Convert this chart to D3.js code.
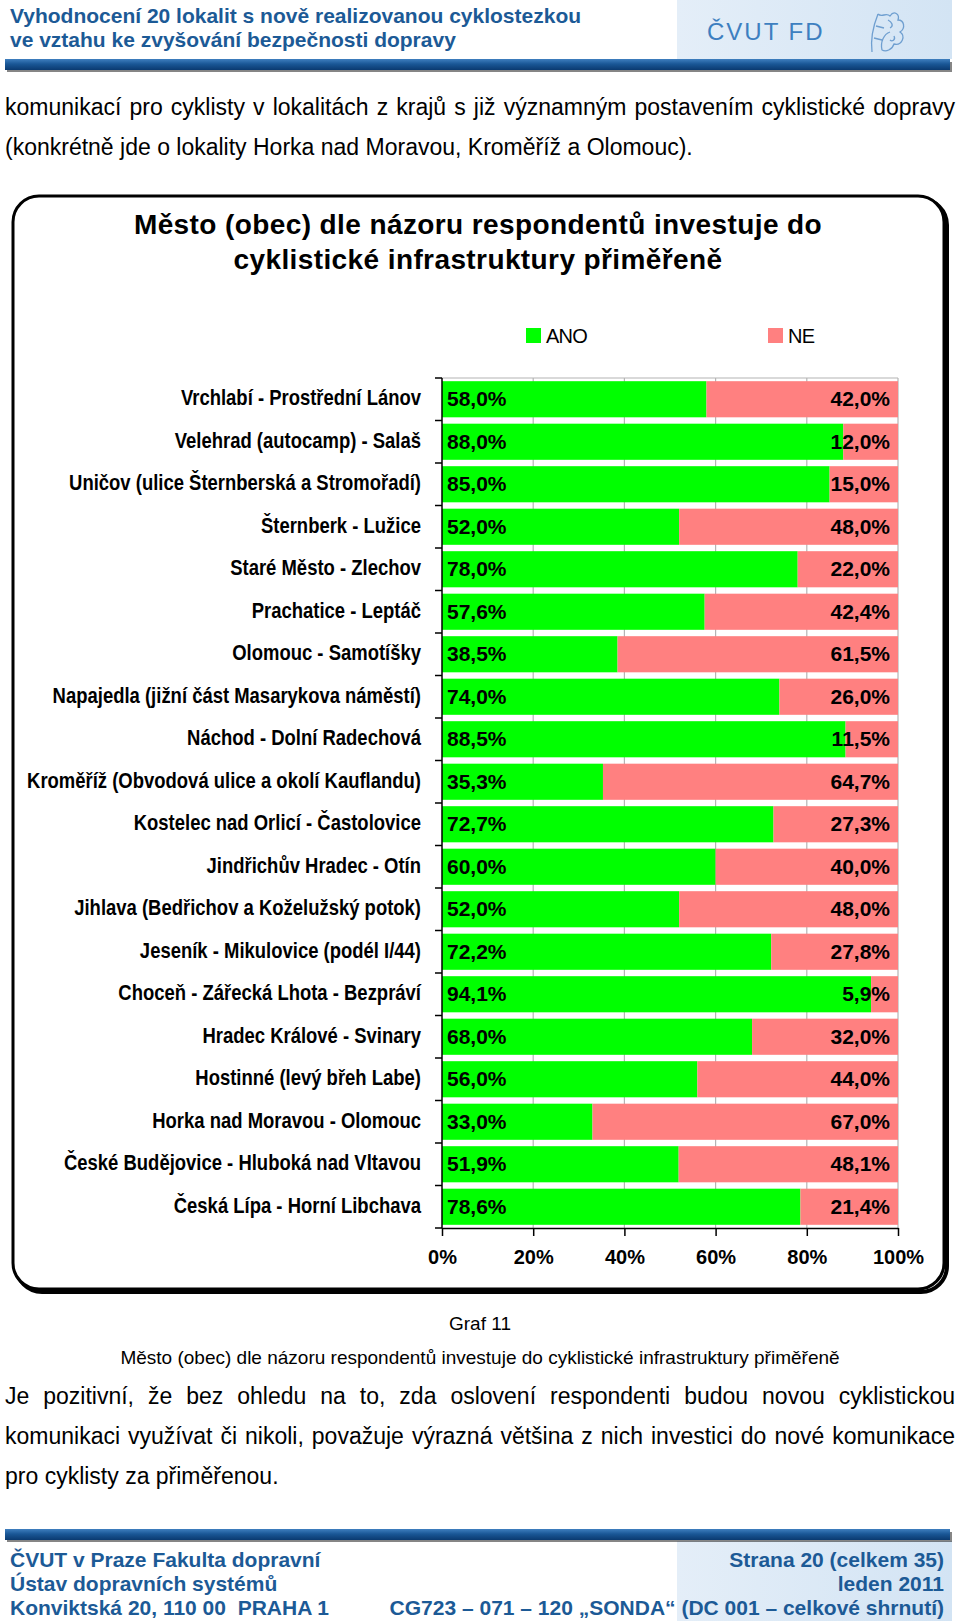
<!DOCTYPE html>
<html>
<head>
<meta charset="utf-8">
<script src="https://cdn.jsdelivr.net/npm/d3@7/dist/d3.min.js"></script>
<style>
  body { margin: 0; background: #fff; }
  #page { position: relative; width: 960px; height: 1621px; overflow: hidden; }
  #page svg { position: absolute; left: 0; top: 0; }
  .txt { position: absolute; font-family: "Liberation Sans", Arial, sans-serif; color: #000; white-space: nowrap; }
  .just { text-align: justify; text-align-last: justify; }
</style>
</head>
<body>
<div id="page"></div>
<script>
var w = 960;
var h = 1621;
var plotLeft = 442;
var plotRight = 898;
var plotTop = 378;
var plotBottom = 1228;
var squeeze = 0.84;   // Arial Narrow is not installed, so Arial is squeezed for the category labels
var arial = '"Liberation Sans", Arial, sans-serif';

// locality names, top to bottom as in the chart
var categories = [
  "Vrchlabí - Prostřední Lánov",
  "Velehrad (autocamp) - Salaš",
  "Uničov (ulice Šternberská a Stromořadí)",
  "Šternberk - Lužice",
  "Staré Město - Zlechov",
  "Prachatice - Leptáč",
  "Olomouc - Samotíšky",
  "Napajedla (jižní část Masarykova náměstí)",
  "Náchod - Dolní Radechová",
  "Kroměříž (Obvodová ulice a okolí Kauflandu)",
  "Kostelec nad Orlicí - Častolovice",
  "Jindřichův Hradec - Otín",
  "Jihlava (Bedřichov a Koželužský potok)",
  "Jeseník - Mikulovice (podél I/44)",
  "Choceň - Zářecká Lhota - Bezpráví",
  "Hradec Králové - Svinary",
  "Hostinné (levý břeh Labe)",
  "Horka nad Moravou - Olomouc",
  "České Budějovice - Hluboká nad Vltavou",
  "Česká Lípa - Horní Libchava"
];
var ano = [58.0, 88.0, 85.0, 52.0, 78.0, 57.6, 38.5, 74.0, 88.5, 35.3, 72.7, 60.0, 52.0, 72.2, 94.1, 68.0, 56.0, 33.0, 51.9, 78.6];
var ne  = [42.0, 12.0, 15.0, 48.0, 22.0, 42.4, 61.5, 26.0, 11.5, 64.7, 27.3, 40.0, 48.0, 27.8, 5.9, 32.0, 44.0, 67.0, 48.1, 21.4];
var seriesNames = ["ANO", "NE"];
var seriesColors = ["#00ff00", "#ff8080"];
var xTicks = [0, 20, 40, 60, 80, 100];

var chartTitle = ["Město (obec) dle názoru respondentů investuje do", "cyklistické infrastruktury přiměřeně"];
var headerLines = ["Vyhodnocení 20 lokalit s nově realizovanou cyklostezkou", "ve vztahu ke zvyšování bezpečnosti dopravy"];
var footerLeft = ["ČVUT v Praze Fakulta dopravní", "Ústav dopravních systémů", "Konviktská 20, 110 00  PRAHA 1"];
var footerRight = ["Strana 20 (celkem 35)", "leden 2011", "CG723 – 071 – 120 „SONDA“ (DC 001 – celkové shrnutí)"];
var introLines = ["komunikací pro cyklisty v lokalitách z krajů s již významným postavením cyklistické dopravy",
                  "(konkrétně jde o lokality Horka nad Moravou, Kroměříž a Olomouc)."];
var outroLines = ["Je pozitivní, že bez ohledu na to, zda oslovení respondenti budou novou cyklistickou",
                  "komunikaci využívat či nikoli, považuje výrazná většina z nich investici do nové komunikace",
                  "pro cyklisty za přiměřenou."];

function fmt(v) { return v.toFixed(1).replace(".", ",") + "%"; }

function boldText(sel, x, y, anchor, size, color) {
  return sel.append("text")
    .attr("x", x).attr("y", y)
    .attr("text-anchor", anchor)
    .style("white-space", "pre")
    .attr("font-family", arial).attr("font-weight", "bold").attr("font-size", size)
    .attr("fill", color);
}

function
drawPage()
{
  var page = d3.select("#page");
  var svg = page.append("svg").attr("width", w).attr("height", h);
  var defs = svg.append("defs");

  var gBar = defs.append("linearGradient").attr("id", "barGrad").attr("x1", 0).attr("y1", 0).attr("x2", 0).attr("y2", 1);
  gBar.append("stop").attr("offset", "0%").attr("stop-color", "#3f7fbf");
  gBar.append("stop").attr("offset", "45%").attr("stop-color", "#1a5796");
  gBar.append("stop").attr("offset", "100%").attr("stop-color", "#0b3a70");

  var gBox = defs.append("linearGradient").attr("id", "boxGrad").attr("x1", 0).attr("y1", 0).attr("x2", 1).attr("y2", 0);
  gBox.append("stop").attr("offset", "0%").attr("stop-color", "#e4eef8");
  gBox.append("stop").attr("offset", "100%").attr("stop-color", "#d3e4f4");

  // ---- header ----
  svg.append("rect").attr("x", 677).attr("y", 0).attr("width", 275).attr("height", 59).attr("fill", "url(#boxGrad)");
  svg.append("text").attr("x", 707).attr("y", 40).attr("font-family", arial).attr("font-size", 24)
    .attr("letter-spacing", 2).attr("fill", "#3d7fc0").text("ČVUT FD");
  // rough lion emblem outline
  var lion = svg.append("g").attr("transform", "translate(868,6)").attr("fill", "none")
    .attr("stroke", "#6f9fd0").attr("stroke-width", 1.3);
  lion.append("path").attr("d", "M4 46 C2 30 6 18 10 8 M10 8 C14 12 18 6 22 10 C26 4 32 8 30 14 C36 14 38 22 32 26 C38 30 34 40 26 38 C24 44 18 46 14 44 M14 44 C12 36 16 28 22 26 M8 20 L16 22 M6 32 L14 34");
  lion.append("path").attr("d", "M20 14 C24 16 26 20 22 22 M26 30 C28 34 24 36 22 34");

  headerLines.forEach(function(t, i) {
    boldText(svg, 10, 23 + i * 24, "start", 21, "#1c5a96").text(t);
  });

  svg.append("rect").attr("x", 7).attr("y", 62).attr("width", 945).attr("height", 10).attr("fill", "#222").attr("opacity", 0.55);
  svg.append("rect").attr("x", 5).attr("y", 59).attr("width", 945).attr("height", 11).attr("fill", "url(#barGrad)");

  // ---- footer ----
  svg.append("rect").attr("x", 677).attr("y", 1541).attr("width", 275).attr("height", 80).attr("fill", "url(#boxGrad)");
  svg.append("rect").attr("x", 7).attr("y", 1532).attr("width", 945).attr("height", 10).attr("fill", "#222").attr("opacity", 0.55);
  svg.append("rect").attr("x", 5).attr("y", 1529).attr("width", 945).attr("height", 11).attr("fill", "url(#barGrad)");

  footerLeft.forEach(function(t, i) {
    boldText(svg, 10, 1567 + i * 24, "start", 21, "#1c5a96").text(t);
  });
  footerRight.forEach(function(t, i) {
    boldText(svg, 944, 1567 + i * 24, "end", 21, "#1c5a96").text(t);
  });

  // ---- chart frame ----
  svg.append("rect").attr("x", 16).attr("y", 199).attr("width", 931).attr("height", 1093).attr("rx", 26)
    .attr("fill", "none").attr("stroke", "#000").attr("stroke-width", 4);
  svg.append("rect").attr("x", 13).attr("y", 196).attr("width", 931).attr("height", 1093).attr("rx", 26)
    .attr("fill", "#fff").attr("stroke", "#000").attr("stroke-width", 3);

  svg.selectAll("text.title").data(chartTitle).enter().append("text")
    .attr("class", "title")
    .attr("x", 478).attr("y", function(d, i) { return 234 + i * 35; })
    .attr("text-anchor", "middle")
    .attr("font-family", arial).attr("font-weight", "bold").attr("font-size", 28).attr("letter-spacing", 0.4)
    .text(function(d) { return d; });

  // legend
  var legX = [526, 768];
  var legend = svg.selectAll("g.leg").data(seriesNames).enter().append("g")
    .attr("class", "leg")
    .attr("transform", function(d, i) { return "translate(" + legX[i] + ",328)"; });
  legend.append("rect").attr("width", 15).attr("height", 15)
    .attr("fill", function(d, i) { return seriesColors[i]; });
  legend.append("text").attr("x", 20).attr("y", 15)
    .attr("font-family", arial).attr("font-size", 20).attr("letter-spacing", -0.8)
    .text(function(d) { return d; });

  // scales
  var x = d3.scaleLinear().domain([0, 100]).range([plotLeft, plotRight]);
  var y = d3.scaleBand().domain(categories).range([plotTop, plotBottom]).paddingInner(0.15).paddingOuter(0.075);

  // gridlines and plot border
  svg.append("g").selectAll("line").data(xTicks.slice(1)).enter().append("line")
    .attr("x1", function(d) { return x(d); }).attr("x2", function(d) { return x(d); })
    .attr("y1", plotTop).attr("y2", plotBottom)
    .attr("stroke", "#b4b4b4").attr("stroke-width", 1.2);
  svg.append("line").attr("x1", plotLeft).attr("x2", plotRight).attr("y1", plotTop).attr("y2", plotTop)
    .attr("stroke", "#b4b4b4").attr("stroke-width", 1.2);

  // bars
  var rows = categories.map(function(c, i) { return {name: c, ano: ano[i], ne: ne[i]}; });
  var row = svg.append("g").selectAll("g").data(rows).enter().append("g")
    .attr("transform", function(d) { return "translate(0," + y(d.name) + ")"; });
  row.append("rect")
    .attr("x", x(0)).attr("width", function(d) { return x(d.ano) - x(0); })
    .attr("height", y.bandwidth()).attr("fill", seriesColors[0]);
  row.append("rect")
    .attr("x", function(d) { return x(d.ano); })
    .attr("width", function(d) { return x(d.ano + d.ne) - x(d.ano); })
    .attr("height", y.bandwidth()).attr("fill", seriesColors[1]);
  row.append("text")
    .attr("x", x(0) + 5).attr("y", y.bandwidth() / 2 + 7)
    .attr("font-family", arial).attr("font-weight", "bold").attr("font-size", 21)
    .text(function(d) { return fmt(d.ano); });
  row.append("text")
    .attr("x", x(100) - 8).attr("y", y.bandwidth() / 2 + 7)
    .attr("text-anchor", "end")
    .attr("font-family", arial).attr("font-weight", "bold").attr("font-size", 21)
    .text(function(d) { return fmt(d.ne); });

  // category axis
  var yAxis = svg.append("g").attr("transform", "translate(" + plotLeft + ",0)")
    .call(d3.axisLeft(y).tickSize(0).tickPadding(0));
  yAxis.select(".domain").remove();
  yAxis.selectAll("text")
    .attr("x", null).attr("dy", null)
    .attr("transform", "translate(-21,6) scale(" + squeeze + ",1)")
    .attr("font-family", arial).attr("font-weight", "bold").attr("font-size", 22).attr("fill", "#000");
  var bounds = categories.map(function(c) { return y(c) - y.step() * y.paddingInner() / 2; });
  bounds.push(plotBottom);
  svg.append("g").selectAll("line").data(bounds).enter().append("line")
    .attr("x1", plotLeft - 7).attr("x2", plotLeft)
    .attr("y1", function(d) { return d; }).attr("y2", function(d) { return d; })
    .attr("stroke", "#000").attr("stroke-width", 1.5);
  svg.append("line").attr("x1", plotLeft).attr("x2", plotLeft).attr("y1", plotTop).attr("y2", plotBottom)
    .attr("stroke", "#000").attr("stroke-width", 1.5);

  // value axis
  var xAxis = svg.append("g").attr("transform", "translate(0," + plotBottom + ")")
    .call(d3.axisBottom(x).tickValues(xTicks).tickSize(8).tickSizeOuter(0).tickPadding(14)
      .tickFormat(function(d) { return d + "%"; }));
  xAxis.select(".domain").attr("stroke-width", 1.5);
  xAxis.selectAll(".tick line").attr("stroke-width", 1.5);
  xAxis.selectAll("text").attr("font-family", arial).attr("font-weight", "bold").attr("font-size", 20).attr("fill", "#000");

  // ---- running text ----
  introLines.forEach(function(t, i) {
    page.append("div").attr("class", "txt" + (i < introLines.length - 1 ? " just" : ""))
      .style("left", "5px").style("width", "950px").style("top", (94 + i * 40) + "px")
      .style("font-size", "23px").text(t);
  });
  page.append("div").attr("class", "txt").style("left", "0px").style("width", "960px").style("top", "1313px")
    .style("text-align", "center").style("font-size", "19px").text("Graf 11");
  page.append("div").attr("class", "txt").style("left", "0px").style("width", "960px").style("top", "1347px")
    .style("text-align", "center").style("font-size", "19px").text(chartTitle.join(" "));
  outroLines.forEach(function(t, i) {
    page.append("div").attr("class", "txt" + (i < outroLines.length - 1 ? " just" : ""))
      .style("left", "5px").style("width", "950px").style("top", (1383 + i * 40) + "px")
      .style("font-size", "23px").text(t);
  });
}

drawPage();
</script>
</body>
</html>
